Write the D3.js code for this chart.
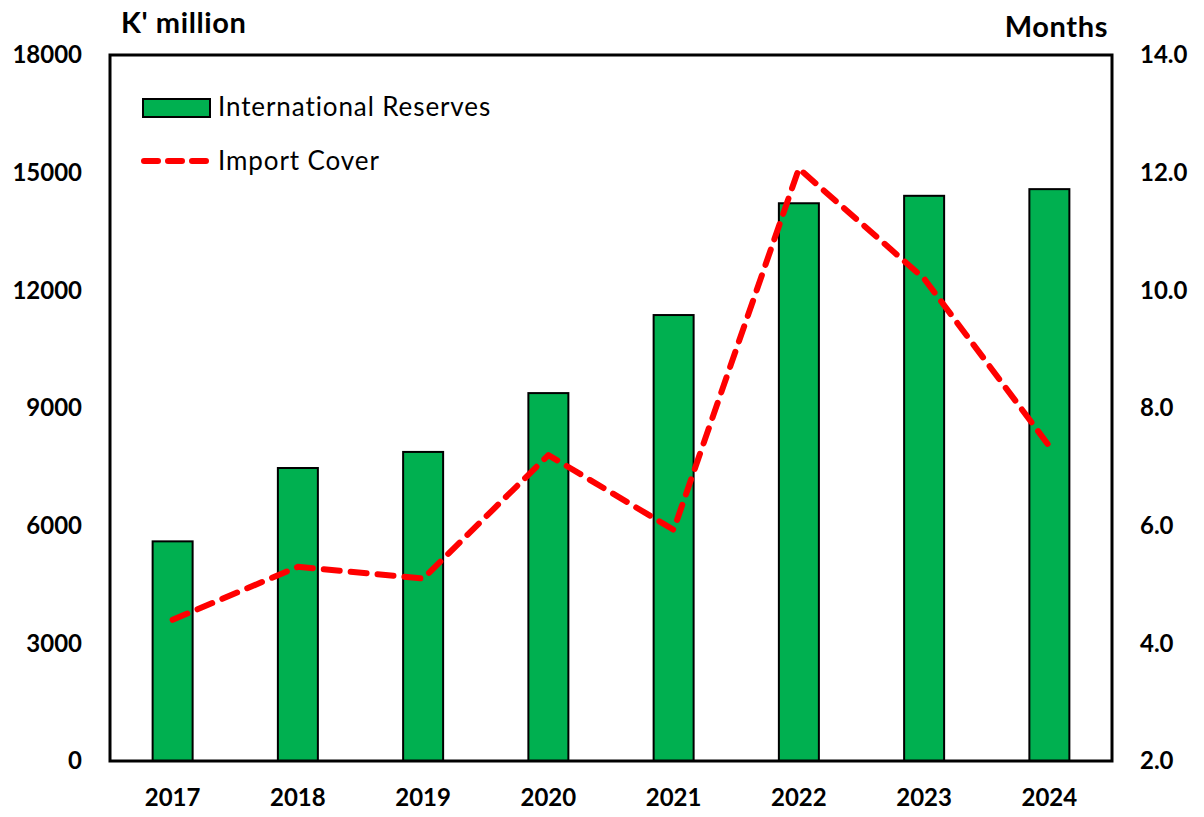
<!DOCTYPE html>
<html>
  <head>
    <meta charset="utf-8">
    <title>International reserves and import cover</title>
    <script src="https://d3js.org/d3.v7.min.js"></script>
    <style>
      body { margin: 0; background: #fff; }
      svg text { font-family: Lato, "Open Sans", sans-serif; fill: #000; font-variant-ligatures: none; }
      .tick text { font-size: 24px; font-weight: bold; }
      .title { font-size: 29px; font-weight: bold; letter-spacing: 0.6px; }
      .legend text { font-size: 26px; letter-spacing: 0.9px; }
    </style>
  </head>
  <body>
    <svg id="chart" width="1204" height="817"></svg>
    <script>
      // data
      var years = ["2017", "2018", "2019", "2020", "2021", "2022", "2023", "2024"];
      var reserves = [5600, 7470, 7880, 9380, 11370, 14220, 14410, 14580];
      var importCover = [4.4, 5.3, 5.1, 7.2, 5.93, 12.07, 10.2, 7.35];
      var leftTicks = [0, 3000, 6000, 9000, 12000, 15000, 18000];
      var rightTicks = [2, 4, 6, 8, 10, 12, 14];

      var svg = d3.select("#chart");
      var plotLeft = 110, plotRight = 1112, plotTop = 55, plotBottom = 761;

      var x = d3.scaleBand()
        .domain(years)
        .range([plotLeft, plotRight]);
      var y = d3.scaleLinear()
        .domain([0, 18000])
        .range([plotBottom, plotTop]);
      var y2 = d3.scaleLinear()
        .domain([2, 14])
        .range([plotBottom, plotTop]);

      // bars
      svg.selectAll(".bar")
          .data(reserves)
        .enter().append("rect")
          .attr("class", "bar")
          .attr("x", function(d, i) { return x(years[i]) + x.bandwidth() / 2 - 20; })
          .attr("width", 40)
          .attr("y", function(d) { return y(d); })
          .attr("height", function(d) { return plotBottom - y(d); })
          .attr("fill", "#00B050")
          .attr("stroke", "#000")
          .attr("stroke-width", 2);

      // frame
      svg.append("rect")
        .attr("x", plotLeft)
        .attr("y", plotTop)
        .attr("width", plotRight - plotLeft)
        .attr("height", plotBottom - plotTop)
        .attr("fill", "none")
        .attr("stroke", "#000")
        .attr("stroke-width", 3);

      // import cover line
      var line = d3.line()
        .x(function(d, i) { return x(years[i]) + x.bandwidth() / 2; })
        .y(function(d) { return y2(d); });
      svg.append("path")
        .datum(importCover)
        .attr("d", line)
        .attr("fill", "none")
        .attr("stroke", "#FF0000")
        .attr("stroke-width", 6)
        .attr("stroke-dasharray", "16 11")
        .attr("stroke-linecap", "round")
        .attr("stroke-linejoin", "round");

      // axes
      var leftAxis = d3.axisLeft(y)
        .tickValues(leftTicks)
        .tickSize(0)
        .tickPadding(28)
        .tickFormat(d3.format("d"));
      svg.append("g")
        .attr("transform", "translate(" + plotLeft + ",0)")
        .call(leftAxis)
        .call(function(g) { g.select(".domain").remove(); });

      var rightAxis = d3.axisRight(y2)
        .tickValues(rightTicks)
        .tickSize(0)
        .tickPadding(28)
        .tickFormat(d3.format(".1f"));
      svg.append("g")
        .attr("transform", "translate(" + plotRight + ",0)")
        .call(rightAxis)
        .call(function(g) { g.select(".domain").remove(); });

      var xAxis = d3.axisBottom(x)
        .tickSize(0)
        .tickPadding(28);
      svg.append("g")
        .attr("transform", "translate(0," + plotBottom + ")")
        .call(xAxis)
        .call(function(g) { g.select(".domain").remove(); });

      // axis titles
      svg.append("text")
        .attr("class", "title")
        .attr("x", 121)
        .attr("y", 33)
        .text("K' million");
      svg.append("text")
        .attr("class", "title")
        .attr("x", 1108)
        .attr("y", 37)
        .attr("text-anchor", "end")
        .text("Months");

      // legend
      var legend = svg.append("g").attr("class", "legend");
      legend.append("rect")
        .attr("x", 143)
        .attr("y", 99)
        .attr("width", 67)
        .attr("height", 18)
        .attr("fill", "#00B050")
        .attr("stroke", "#000")
        .attr("stroke-width", 2);
      legend.append("text")
        .attr("x", 218)
        .attr("y", 116)
        .text("International Reserves");
      legend.append("line")
        .attr("x1", 144)
        .attr("x2", 209)
        .attr("y1", 161)
        .attr("y2", 161)
        .attr("stroke", "#FF0000")
        .attr("stroke-width", 6)
        .attr("stroke-dasharray", "14 10")
        .attr("stroke-linecap", "round");
      legend.append("text")
        .attr("x", 218)
        .attr("y", 170)
        .text("Import Cover");
    </script>
  </body>
</html>
